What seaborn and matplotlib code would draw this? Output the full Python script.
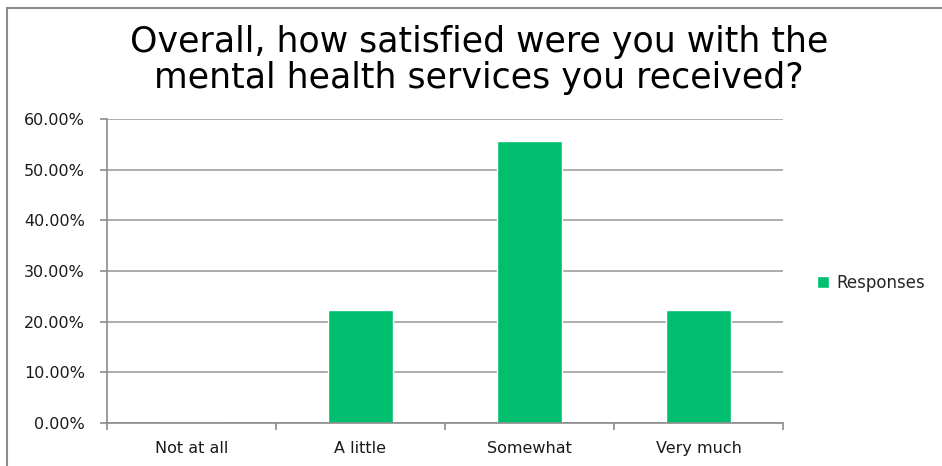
import matplotlib
matplotlib.use("Agg")
import matplotlib.pyplot as plt
from matplotlib.lines import Line2D
from matplotlib.ticker import FuncFormatter, FixedLocator
import seaborn as sns
import pandas as pd

categories = ["Not at all", "A little", "Somewhat", "Very much"]
responses = [0.0, 22.22, 55.56, 22.22]
series_name = "Responses"
title = "Overall, how satisfied were you with the\nmental health services you received?"

df = pd.DataFrame({"category": categories, "value": responses})

sns.set_theme(style="white")
plt.rcParams["font.family"] = ["DejaVu Sans"]

fig = plt.figure(figsize=(9.42, 4.66), dpi=100)
ax = fig.add_axes([107 / 942, 1 - 423 / 466, 676 / 942, 304 / 466])

bar_color = "#00BF6F"
sns.barplot(data=df, x="category", y="value", color=bar_color, width=0.39,
            saturation=1, ax=ax, label=series_name, order=categories)

ax.set_ylim(0, 60)
ax.set_xlim(-0.5, len(categories) - 0.5)
ax.set_yticks(range(0, 61, 10))
ax.yaxis.set_major_formatter(FuncFormatter(lambda v, p: f"{v:.2f}%"))
ax.yaxis.grid(True, color="#A6A6A6", linewidth=1.3)
ax.set_axisbelow(True)
ax.set_xlabel("")
ax.set_ylabel("")

for side in ("top", "right"):
    ax.spines[side].set_visible(False)
for side in ("left", "bottom"):
    ax.spines[side].set_color("#8C8C8C")
    ax.spines[side].set_linewidth(1.2)

# category separators as tick marks below the axis
ax.xaxis.set_minor_locator(FixedLocator([i - 0.5 for i in range(len(categories) + 1)]))
ax.tick_params(axis="x", which="major", length=0, pad=13, labelsize=11.5, labelcolor="#1A1A1A")
ax.tick_params(axis="x", which="minor", bottom=True, length=5, width=1.2, color="#8C8C8C")
ax.tick_params(axis="y", which="major", left=True, length=5, width=1.2, color="#8C8C8C",
               pad=11, labelsize=11.5, labelcolor="#1A1A1A")

fig.text(479 / 942, 1 - 60 / 466, title, ha="center", va="center", fontsize=25,
         family=["DejaVu Sans"], color="#000000", linespacing=1.05)

leg = ax.legend(loc="center left", bbox_to_anchor=(817 / 942, 1 - 283 / 466),
                bbox_transform=fig.transFigure, frameon=False, fontsize=12,
                borderpad=0, borderaxespad=0,
                handlelength=0.72, handleheight=0.72, handletextpad=0.45)

# outer frame (top and left edges)
fig.add_artist(Line2D([6.5 / 942, 1], [1 - 7.5 / 466, 1 - 7.5 / 466],
                      transform=fig.transFigure, color="#8C8C8C", linewidth=1.5))
fig.add_artist(Line2D([6.5 / 942, 6.5 / 942], [0, 1 - 7.5 / 466],
                      transform=fig.transFigure, color="#8C8C8C", linewidth=1.5))

fig.savefig("out.png", dpi=100)
